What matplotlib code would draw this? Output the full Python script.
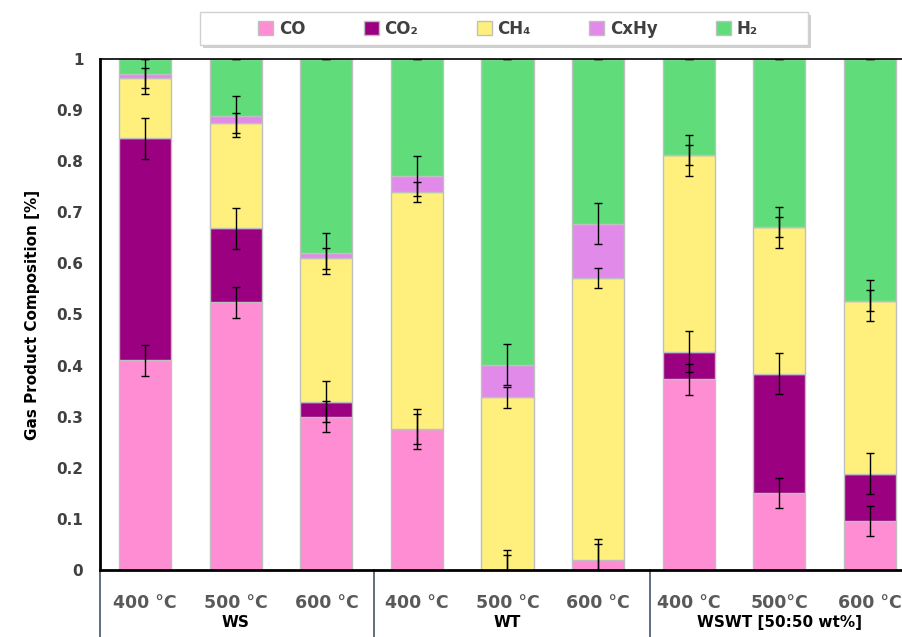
import matplotlib.pyplot as plt
import numpy as np
from matplotlib.patches import Rectangle
from matplotlib.transforms import blended_transform_factory

temps = ["400 °C", "500 °C", "600 °C", "400 °C", "500 °C", "600 °C", "400 °C", "500°C", "600 °C"]
groups = ["WS", "WT", "WSWT [50:50 wt%]"]

# gas fractions per condition
co = [0.410, 0.524, 0.300, 0.276, 0.000, 0.020, 0.373, 0.151, 0.096]
co2 = [0.435, 0.145, 0.029, 0.000, 0.000, 0.000, 0.054, 0.233, 0.092]
ch4 = [0.118, 0.206, 0.281, 0.464, 0.338, 0.551, 0.385, 0.287, 0.339]
cxhy = [0.008, 0.013, 0.010, 0.031, 0.064, 0.107, 0.000, 0.000, 0.000]
h2 = [0.029, 0.112, 0.380, 0.229, 0.598, 0.322, 0.188, 0.329, 0.473]

co_err = [0.03] * 9
co2_err = [0.04] * 9
ch4_err = [0.02] * 9
cxhy_err = [0.04] * 9
h2_err = [0.0] * 9

series = [
    ("CO", co, co_err, "#FF8DD3"),
    ("CO₂", co2, co2_err, "#9B0080"),
    ("CH₄", ch4, ch4_err, "#FFF07E"),
    ("CxHy", cxhy, cxhy_err, "#E18AEA"),
    ("H₂", h2, h2_err, "#60DD7A"),
]

fig = plt.figure(figsize=(9.03, 6.37), dpi=100)
ax = fig.add_axes([100 / 903, 67 / 637, 815 / 903, 511 / 637])

x = np.arange(len(temps))
bottom = np.zeros(len(temps))
tops = []
for name, vals, errs, col in series:
    vals = np.array(vals)
    ax.bar(x, vals, 0.575, bottom=bottom, color=col, edgecolor="#BFBFBF",
           linewidth=1, label=name, zorder=2)
    bottom = bottom + vals
    tops.append((bottom.copy(), errs))

for top, errs in tops:
    ax.errorbar(x, top, yerr=errs, fmt="none", ecolor="black", elinewidth=1,
                capsize=3, capthick=1, zorder=5)

ax.set_xlim(-0.5, 8.5)
ax.set_ylim(0, 1)
ax.set_yticks(np.arange(0, 1.01, 0.1))
ax.set_yticklabels(["0", "0.1", "0.2", "0.3", "0.4", "0.5", "0.6", "0.7", "0.8", "0.9", "1"],
                   fontsize=11, fontweight="bold", color="#404040")
ax.tick_params(axis="y", length=0, pad=12)
ax.set_xticks(x)
ax.set_xticklabels(temps, fontsize=12.5, fontweight="bold", color="#595959")
ax.tick_params(axis="x", length=0, pad=17)

for s in ["left", "bottom"]:
    ax.spines[s].set_linewidth(2)
for s in ["top", "right"]:
    ax.spines[s].set_linewidth(1.2)
for s in ax.spines.values():
    s.set_color("black")

ax.set_ylabel("Gas Product Composition [%]", fontsize=11, fontweight="bold", labelpad=12)

trans = blended_transform_factory(ax.transData, ax.transAxes)
for xs in [-0.5, 2.53, 5.57]:
    ax.plot([xs, xs], [0, -0.15], color="#44546A", lw=1.2, transform=trans, clip_on=False)
for gx, g in zip([1, 4, 7], groups):
    ax.text(gx, -0.103, g, transform=trans, ha="center", va="center",
            fontsize=11, fontweight="bold", color="black")

# legend box with shadow
W, H = 903, 637
fig.patches.append(Rectangle((203 / W, (H - 48) / H), 608 / W, 33 / H, transform=fig.transFigure,
                             facecolor="#B0B0B0", edgecolor="none", alpha=0.6, zorder=0))
fig.patches.append(Rectangle((200 / W, (H - 45) / H), 608 / W, 33 / H, transform=fig.transFigure,
                             facecolor="white", edgecolor="#D0D0D0", lw=1, zorder=1))

handles, labels = ax.get_legend_handles_labels()
leg = fig.legend(handles, labels, loc="center left", bbox_to_anchor=(258 / W, (H - 29) / H),
                 ncol=5, frameon=False, fontsize=12, borderpad=0, borderaxespad=0,
                 columnspacing=3.5, handlelength=0.9, handleheight=0.9, handletextpad=0.35)
for t in leg.get_texts():
    t.set_color("#404040")
    t.set_fontweight("bold")

plt.savefig("out.png", dpi=100)
